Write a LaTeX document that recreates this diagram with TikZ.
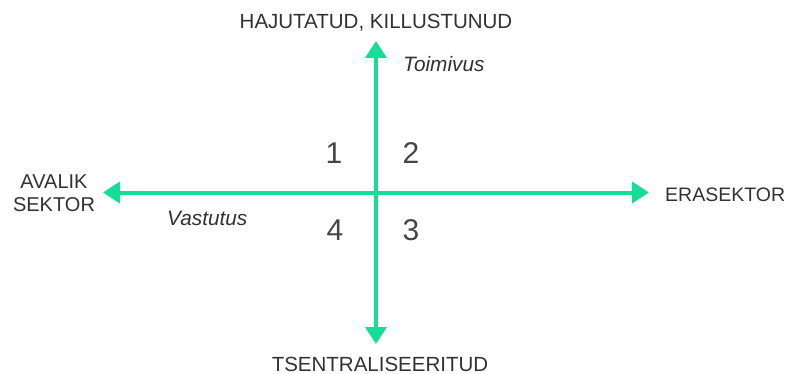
\documentclass[tikz,border=0pt]{standalone}
\usepackage{fontspec}
\setmainfont{Liberation Sans}
\usetikzlibrary{arrows.meta}
\definecolor{axisgreen}{RGB}{20,222,150}
\definecolor{txtgray}{RGB}{48,48,54}
\tikzset{
  axis/.style={draw=axisgreen, line width=4pt, {Triangle[length=17pt,width=21pt]}-{Triangle[length=17pt,width=21pt]}},
  caplabel/.style={text=txtgray, inner sep=0pt, anchor=base, font=\fontsize{20.5}{24}\selectfont},
  itlabel/.style={text=txtgray, inner sep=0pt, anchor=base west, font=\fontsize{20.8}{24}\selectfont\itshape},
  numlabel/.style={text=txtgray!90, inner sep=0pt, anchor=base, font=\fontsize{30}{34}\selectfont},
}
\begin{document}
\begin{tikzpicture}[x=1pt,y=-1pt]
\useasboundingbox (0,0) rectangle (789,374);
\coordinate (c) at (376,192.5);
\coordinate (top) at (376,41);
\coordinate (bottom) at (376,344);
\coordinate (left) at (103,192.5);
\coordinate (right) at (649,192.5);
\draw[axis] (top) -- (bottom);
\draw[axis] (left) -- (right);
\node[caplabel] (hajutatud) at (376,29) {HAJUTATUD, KILLUSTUNUD};
\node[caplabel] (tsentr) at (380,371) {TSENTRALISEERITUD};
\node[caplabel, anchor=base west, font=\fontsize{19.5}{23}\selectfont] (era) at (665,201) {ERASEKTOR};
\node[caplabel, align=center, anchor=north, font=\fontsize{20}{23}\selectfont] (avalik) at (54,175) {AVALIK\\[0pt]SEKTOR};
\node[itlabel] (toimivus) at (403,72) {Toimivus};
\node[itlabel] (vastutus) at (167,225) {Vastutus};
\node[numlabel] (n1) at (334,164) {1};
\node[numlabel] (n2) at (411,164) {2};
\node[numlabel] (n4) at (335,240) {4};
\node[numlabel] (n3) at (411,240) {3};
\end{tikzpicture}
\end{document}
